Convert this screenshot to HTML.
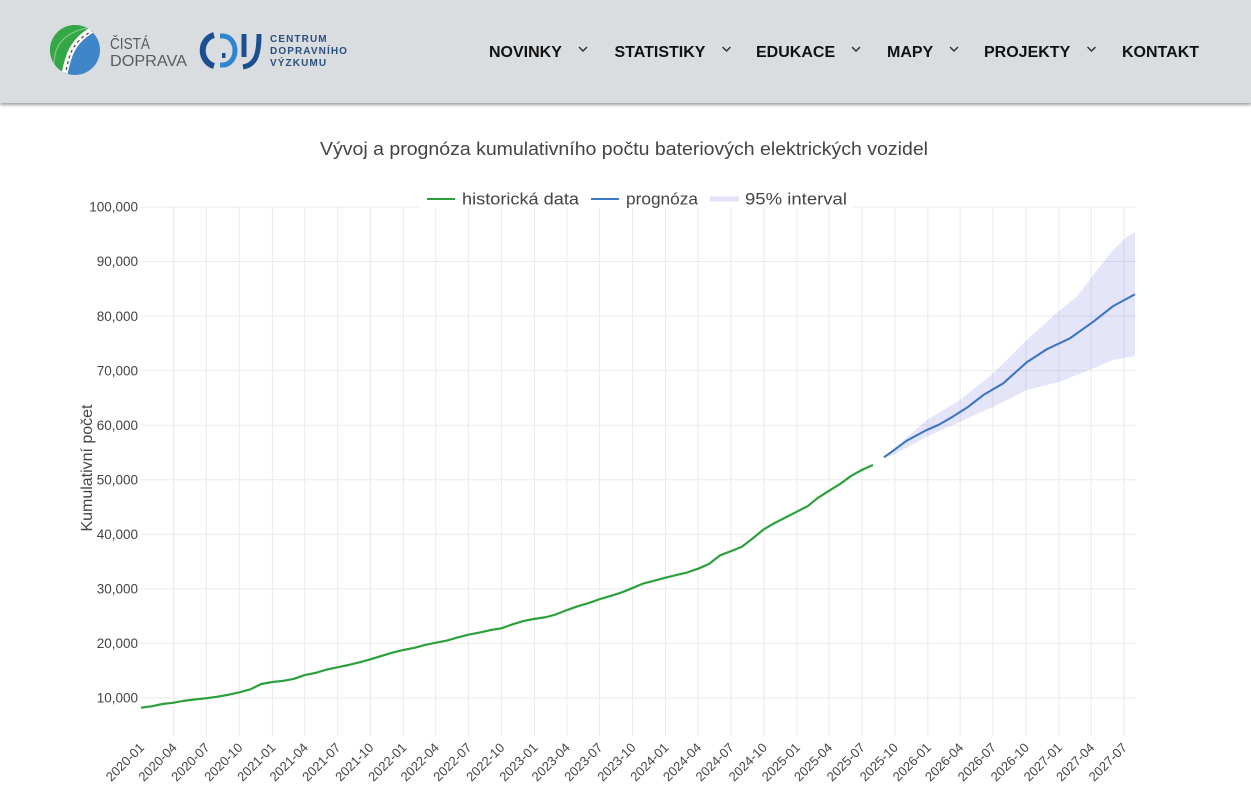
<!DOCTYPE html>
<html>
<head>
<meta charset="utf-8">
<style>
  html,body{margin:0;padding:0;background:#fff;}
  body{width:1251px;height:802px;overflow:hidden;position:relative;font-family:"Liberation Sans",Arial,sans-serif;}
  #hdr{position:absolute;left:0;top:0;width:1251px;height:103px;background:#dadde0;box-shadow:0 2px 3px rgba(0,0,0,0.38);z-index:2;}
  #c{position:absolute;left:0;top:0;z-index:1;}
</style>
</head>
<body>
<div id="hdr">
<svg width="1251" height="103" style="position:absolute;left:0;top:0">
  <defs>
    <clipPath id="lc"><circle cx="75" cy="50" r="25"/></clipPath>
  </defs>
  <!-- Cista doprava logo -->
  <g clip-path="url(#lc)">
    <rect x="48" y="24" width="56" height="54" fill="#3f86c8"/>
    <path d="M48,78 L48,24 L102,24 C88,28 78,36 72,48 C67,58 63,68 60,78 Z" fill="#34a846"/>
    <path d="M98,27 C84,33 75,42 70,54 C67,62 65,70 64,78" stroke="#fff" stroke-width="6" fill="none"/>
    <path d="M94,30 C82,36 74,44 70,55 C68,62 66,69 65,77" stroke="#555" stroke-width="1.4" stroke-dasharray="3,3" fill="none"/>
    <path d="M54,64 C54,44 66,31 92,27" stroke="#8fd08f" stroke-width="1" fill="none"/>
  </g>
  <text x="110" y="49" font-size="16" fill="#5a5a5a" textLength="40" lengthAdjust="spacingAndGlyphs">ČISTÁ</text>
  <text x="110" y="66" font-size="16" fill="#5a5a5a" textLength="77" lengthAdjust="spacingAndGlyphs">DOPRAVA</text>
  <!-- CDV logo -->
  <path d="M214,35 A15,16 0 0 0 214,66" stroke="#1c4f91" stroke-width="6" fill="none"/>
  <path d="M220,36 h3 a12,14.5 0 0 1 0,29 h-3" stroke="#2f86cf" stroke-width="5" fill="none"/>
  <rect x="222" y="53" width="3.5" height="5" fill="#1c4f91"/>
  <path d="M244,34 V57" stroke="#1c4f91" stroke-width="5" fill="none"/>
  <path d="M259,34 C259,56 255,65 243,67" stroke="#1c4f91" stroke-width="5" fill="none"/>
  <g font-size="10" font-weight="bold" fill="#2b4f7c" letter-spacing="1.1">
    <text x="270" y="42">CENTRUM</text>
    <text x="270" y="54">DOPRAVNÍHO</text>
    <text x="270" y="66">VÝZKUMU</text>
  </g>
  <!-- Nav -->
  <g font-size="16" font-weight="bold" fill="#111">
    <text x="489" y="57">NOVINKY</text>
    <text x="614.5" y="57">STATISTIKY</text>
    <text x="756" y="57">EDUKACE</text>
    <text x="887" y="57">MAPY</text>
    <text x="984" y="57">PROJEKTY</text>
    <text x="1122" y="57">KONTAKT</text>
  </g>
  <g stroke="#333" stroke-width="1.5" fill="none">
    <polyline points="579,47 583,51 587,47"/>
    <polyline points="722.5,47 726.5,51 730.5,47"/>
    <polyline points="852,47 856,51 860,47"/>
    <polyline points="950,47 954,51 958,47"/>
    <polyline points="1087.5,47 1091.5,51 1095.5,47"/>
  </g>
</svg>
</div>

<svg id="c" width="1251" height="802" xmlns="http://www.w3.org/2000/svg">
  <g id="grid"></g>
  <g id="series"></g>
  <g id="ticks" font-family="Liberation Sans, Arial, sans-serif" fill="#444"></g>
  <text x="624" y="155" text-anchor="middle" font-size="18" fill="#444" textLength="608" lengthAdjust="spacingAndGlyphs">Vývoj a prognóza kumulativního počtu bateriových elektrických vozidel</text>
  <!-- legend -->
  <rect x="420" y="186" width="432" height="22" fill="#fff"/>
  <line x1="427" y1="199" x2="455" y2="199" stroke="#2ca03c" stroke-width="2"/>
  <text x="462" y="204.5" font-size="17" fill="#444" textLength="117" lengthAdjust="spacingAndGlyphs">historická data</text>
  <line x1="591" y1="199" x2="619" y2="199" stroke="#3c76c2" stroke-width="2"/>
  <text x="626" y="204.5" font-size="17" fill="#444" textLength="72" lengthAdjust="spacingAndGlyphs">prognóza</text>
  <line x1="710" y1="199" x2="739" y2="199" stroke="rgba(110,110,220,0.2)" stroke-width="5"/>
  <text x="745" y="204.5" font-size="17" fill="#444" textLength="102" lengthAdjust="spacingAndGlyphs">95% interval</text>
  <!-- y title -->
  <text transform="translate(92,468) rotate(-90)" text-anchor="middle" font-size="16" fill="#444" textLength="127" lengthAdjust="spacingAndGlyphs">Kumulativní počet</text>
</svg>

<script>
(function(){
  var NS="http://www.w3.org/2000/svg";
  var X0=141, SX=994/2769;
  function days(y,m){return (Date.UTC(y,m-1,1)-Date.UTC(2020,0,1))/864e5;}
  function X(y,m){return X0+days(y,m)*SX;}
  function Y(v){return 698-(v-10000)*0.005456;}
  function el(tag,attrs,parent,txt){var e=document.createElementNS(NS,tag);for(var k in attrs)e.setAttribute(k,attrs[k]);if(txt!=null)e.textContent=txt;parent.appendChild(e);return e;}
  var grid=document.getElementById('grid'), ser=document.getElementById('series'), tk=document.getElementById('ticks');
  // horizontal grid + y ticks
  for(var v=10000;v<=100000;v+=10000){
    var y=Y(v);
    el('line',{x1:141,x2:1136,y1:y,y2:y,stroke:'#ebebeb','stroke-width':1},grid);
    var s=v.toString().replace(/\B(?=(\d{3})+(?!\d))/g,',');
    el('text',{x:138,y:y+4.7,'text-anchor':'end','font-size':13.5},tk,s);
  }
  // vertical grid + x ticks
  for(var yr=2020;yr<=2027;yr++){
    for(var m=1;m<=10;m+=3){
      if(yr===2027&&m>7)break;
      var x=X(yr,m);
      if(!(yr===2020&&m===1)) el('line',{x1:x,x2:x,y1:207,y2:736,stroke:'#ebebeb','stroke-width':1},grid);
      var lab=yr+'-'+(m<10?'0'+m:m);
      el('text',{transform:'translate('+(x+4)+',748.4) rotate(-45)','text-anchor':'end','font-size':13},tk,lab);
    }
  }
  // historical
  var hist=[8220,8500,8900,9140,9500,9750,9950,10240,10600,11040,11600,12570,
    12930,13150,13500,14210,14600,15200,15630,16050,16550,17090,17700,18300,
    18800,19200,19700,20130,20500,21100,21600,22000,22460,22770,23500,24100,
    24500,24800,25300,26100,26800,27400,28100,28700,29350,30150,31000,31500,
    32050,32550,33000,33700,34560,36150,36900,37730,39300,40920,42100,43100,
    44150,45200,46700,48000,49200,50700,51800,52700];
  var pts=[];
  for(var i=0;i<hist.length;i++){
    var yy=2020+Math.floor(i/12), mm=i%12+1;
    pts.push(X(yy,mm).toFixed(2)+','+Y(hist[i]).toFixed(2));
  }
  // band
  var up=[[884,54200],[910,58300],[926.7,60950],[960,64620],[993.3,69510],[1026.7,75620],[1060,81110],[1076.7,83550],[1093.3,87530],[1113.3,92110],[1126.7,94550],[1135,95350]];
  var lo=[[884,54000],[893.3,54540],[926.7,57890],[960,60640],[993.3,63390],[1026.7,66450],[1060,67970],[1093.3,70430],[1113.3,71950],[1135,72690]];
  var bp=[];
  up.forEach(function(p){bp.push(p[0]+','+Y(p[1]).toFixed(2));});
  lo.slice().reverse().forEach(function(p){bp.push(p[0]+','+Y(p[1]).toFixed(2));});
  el('polygon',{points:bp.join(' '),fill:'rgba(110,110,220,0.18)',stroke:'none'},ser);
  el('polyline',{points:pts.join(' '),fill:'none',stroke:'#2ca03c','stroke-width':2.2,'stroke-linejoin':'round'},ser);
  var fc=[[884,54120],[893.3,55330],[906.7,57160],[926.7,59120],[938.3,60040],[950,61260],[968.3,63390],[983.3,65530],[1003.3,67680],[1026.7,71530],[1046.7,73910],[1070,75930],[1093.3,78970],[1113.3,81850],[1135,84000]];
  var fp=fc.map(function(p){return p[0]+','+Y(p[1]).toFixed(2);});
  el('polyline',{points:fp.join(' '),fill:'none',stroke:'#3c76c2','stroke-width':2.1,'stroke-linejoin':'round'},ser);
})();
</script>
</body>
</html>
